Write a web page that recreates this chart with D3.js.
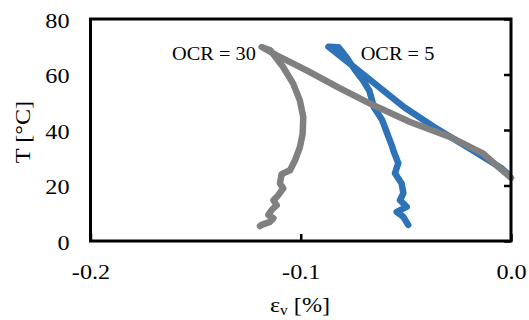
<!DOCTYPE html>
<html>
<head>
<meta charset="utf-8">
<script src="https://cdn.jsdelivr.net/npm/d3@7"></script>
<style>
  html, body { margin: 0; padding: 0; background: #fff; }
  svg { display: block; }
  text { font-family: "Liberation Serif", "Times New Roman", serif; fill: #000; }
</style>
</head>
<body>
<svg id="chart" width="529" height="320"></svg>
<script>
// ---- data (strain εv [%], temperature T [°C]) ----
const xTicks = [-0.2, -0.1, 0.0];
const yTicks = [0, 20, 40, 60, 80];

// OCR = 5 : heating branch then cooling branch
const ocr5Heating = [
  [-0.002, 24.5], [-0.0045, 26.2], [-0.0189, 33.0], [-0.0364, 41.0],
  [-0.0508, 48.2], [-0.0668, 57.9], [-0.0766, 63.9], [-0.0868, 70.0]
];
const ocr5Cooling = [
  [-0.0868, 70.0], [-0.082, 69.8], [-0.0785, 66.5], [-0.0745, 62.0],
  [-0.0705, 58.0], [-0.0674, 54.2], [-0.0652, 48.2], [-0.0612, 43.5],
  [-0.0588, 38.6], [-0.0564, 33.8], [-0.056, 32.7], [-0.0536, 28.0],
  [-0.0552, 24.4], [-0.052, 20.7], [-0.0512, 17.2], [-0.0528, 14.7],
  [-0.0496, 12.3], [-0.0544, 10.5], [-0.0512, 8.7], [-0.0489, 5.8]
];

// OCR = 30 : heating branch then cooling branch
const ocr30Heating = [
  [0.0, 22.8], [-0.005, 26.0], [-0.0132, 31.5], [-0.029, 37.5],
  [-0.048, 42.9], [-0.067, 49.5], [-0.0813, 55.0], [-0.0972, 61.5],
  [-0.1114, 66.9], [-0.1186, 69.9]
];
const ocr30Cooling = [
  [-0.1186, 69.9], [-0.1145, 68.7], [-0.1084, 62.7], [-0.1036, 56.7],
  [-0.1004, 50.6], [-0.0988, 44.6], [-0.0991, 38.6], [-0.1004, 33.8],
  [-0.1027, 29.1], [-0.1051, 25.5], [-0.1091, 24.1], [-0.1099, 20.7],
  [-0.1083, 19.0], [-0.1107, 16.5], [-0.1130, 14.7], [-0.1114, 12.9],
  [-0.1138, 11.2], [-0.1154, 9.4], [-0.1130, 8.2], [-0.1146, 6.9],
  [-0.1186, 5.8], [-0.1194, 5.4]
];

const labels = [
  { text: "OCR = 30", x: -0.1612, T: 67.5 },
  { text: "OCR = 5",  x: -0.0715, T: 67.5 }
];

// ---- layout ----
const svg = d3.select("#chart");
const L = 90.5, R = 511, TOP = 19, BOT = 241;
const SX = 1.1; // horizontal stretch of the glyphs in the reference
const FONT = "'Liberation Serif', 'Times New Roman', serif";

const x = d3.scaleLinear().domain([-0.2, 0]).range([L, R]);
const y = d3.scaleLinear().domain([0, 80]).range([BOT, TOP]);

const line = d3.line().x(d => x(d[0])).y(d => y(d[1]));

const series = [
  { data: ocr5Heating.concat(ocr5Cooling.slice(1)), color: "#2e73b8" },
  { data: ocr30Heating.concat(ocr30Cooling.slice(1)), color: "#808080" }
];

svg.selectAll("path.series").data(series).enter().append("path")
  .attr("class", "series")
  .attr("d", d => line(d.data))
  .attr("fill", "none")
  .attr("stroke", d => d.color)
  .attr("stroke-width", 6.5)
  .attr("stroke-linejoin", "round")
  .attr("stroke-linecap", "round");

// frame
svg.append("rect")
  .attr("x", L).attr("y", TOP)
  .attr("width", R - L).attr("height", BOT - TOP)
  .attr("fill", "none").attr("stroke", "#000").attr("stroke-width", 3);

// x axis: inward ticks at bottom, labels below
const gx = svg.append("g").attr("transform", `translate(0,${BOT})`)
  .call(d3.axisBottom(x).tickValues(xTicks).tickSizeInner(-7).tickSizeOuter(0)
        .tickFormat(d3.format(".1f")));
gx.attr("font-family", FONT);
gx.select(".domain").remove();
gx.selectAll(".tick line").attr("stroke", "#000").attr("stroke-width", 2.5);
gx.selectAll(".tick text")
  .attr("y", 0).attr("dy", null)
  .attr("transform", `translate(0,38) scale(${SX},1)`)
  .attr("font-size", 22)
  .attr("fill", "#000")
  .text(d => d3.format(".1f")(d).replace("−", "-"));

// y axis labels on the left (no ticks)
const gyL = svg.append("g").attr("transform", `translate(${L},0)`)
  .call(d3.axisLeft(y).tickValues(yTicks).tickSize(0).tickFormat(d3.format("d")));
gyL.attr("font-family", FONT);
gyL.select(".domain").remove();
gyL.selectAll(".tick text")
  .attr("x", 0).attr("dy", null)
  .attr("transform", `translate(-21,8) scale(${SX},1)`)
  .attr("text-anchor", "end")
  .attr("font-size", 22)
  .attr("fill", "#000");

// y ticks on the right (x = 0 line), pointing inward
const gyR = svg.append("g").attr("transform", `translate(${R},0)`)
  .call(d3.axisRight(y).tickValues(yTicks).tickSizeInner(-7).tickSizeOuter(0).tickFormat(""));
gyR.select(".domain").remove();
gyR.selectAll(".tick line").attr("stroke", "#000").attr("stroke-width", 2.5);

// axis titles
const xt = svg.append("text")
  .attr("transform", `translate(300,312) scale(${SX},1)`)
  .attr("text-anchor", "middle")
  .attr("font-size", 22);
xt.append("tspan").text("ε");
xt.append("tspan").attr("font-size", 14).attr("dy", 3).text("v");
xt.append("tspan").attr("dy", -3).text(" [%]");

svg.append("text")
  .attr("transform", `translate(30,132) rotate(-90) scale(${SX},1)`)
  .attr("text-anchor", "middle")
  .attr("font-size", 22)
  .text("T [°C]");

// annotations
svg.selectAll("text.ann").data(labels).enter().append("text")
  .attr("class", "ann")
  .attr("transform", d => `translate(${x(d.x)},${y(d.T) + 6}) scale(${SX},1)`)
  .attr("font-size", 18.5)
  .text(d => d.text);
</script>
</body>
</html>
